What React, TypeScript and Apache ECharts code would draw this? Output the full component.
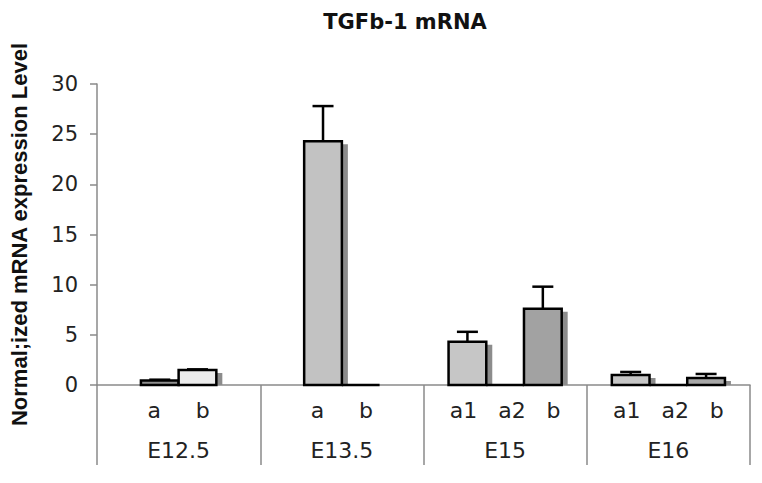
import React, { useEffect, useRef } from "react";
import * as echarts from "echarts";

const categories = ["E12.5", "E13.5", "E15", "E16"];
const subLabels = [["a", "b"], ["a", "b"], ["a1", "a2", "b"], ["a1", "a2", "b"]];
const values = [[0.45, 1.5], [24.3, 0], [4.3, 0, 7.6], [1.0, 0, 0.7]];
const errors = [[0.08, 0.06], [3.5, 0], [1.0, 0, 2.2], [0.3, 0, 0.4]];
const fills = [["#8f8f8f", "#ececec"], ["#c2c2c2", "#c2c2c2"], ["#c6c6c6", "#ffffff", "#a2a2a2"], ["#c6c6c6", "#ffffff", "#a8a8a8"]];
const yTicks = [0, 5, 10, 15, 20, 25, 30];

const NB = "\u00A0";

export default function App() {
  const ref = useRef<HTMLDivElement>(null);
  useEffect(() => {
    if (!ref.current) return;
    const chart = echarts.init(ref.current, null, { renderer: "svg" });
    const data: any[] = [];
    values.forEach((grp, ci) => {
      grp.forEach((v, si) => {
        data.push({ value: [ci, v, si, grp.length, errors[ci][si]], fill: fills[ci][si] });
      });
    });
    const labelText = (ci: number) => {
      const s = subLabels[ci];
      const gap = s.length === 2 ? NB.repeat(5) : NB.repeat(3);
      return "{s|" + s.join(gap) + "}\n{g|" + categories[ci] + "}";
    };
    chart.setOption({
      animation: false,
      backgroundColor: "#ffffff",
      title: {
        text: "TGFb-1 mRNA",
        left: 400,
        top: 6,
        textAlign: "center",
        textStyle: { fontFamily: "DejaVu Sans", fontWeight: "bold", fontSize: 21, color: "#111" },
      },
      grid: { left: 97, right: 12, top: 84, bottom: 98, outerBoundsMode: "none", containLabel: false },
      xAxis: {
        type: "category",
        data: categories,
        boundaryGap: true,
        axisLine: { show: true, lineStyle: { color: "#8a8a8a", width: 1.5 } },
        axisTick: { show: true, interval: 0, length: 80, lineStyle: { color: "#8a8a8a", width: 1.5 } },
        axisLabel: {
          interval: 0,
          margin: 5,
          formatter: (_v: string, i: number) => labelText(i),
          rich: {
            s: { fontFamily: "DejaVu Sans", fontSize: 22, lineHeight: 40, color: "#222" },
            g: { fontFamily: "DejaVu Sans", fontSize: 22, lineHeight: 40, color: "#222" },
          },
        },
      },
      yAxis: {
        type: "value",
        min: yTicks[0],
        max: yTicks[yTicks.length - 1],
        interval: 5,
        name: "Normal;ized mRNA expression Level",
        nameLocation: "middle",
        nameRotate: 90,
        nameGap: 67,
        nameTextStyle: { fontFamily: "Liberation Sans", fontWeight: "bold", fontSize: 22, color: "#111" },
        axisLine: { show: true, lineStyle: { color: "#8a8a8a", width: 1.5 } },
        axisTick: { show: true, length: 7, lineStyle: { color: "#8a8a8a", width: 1.5 } },
        splitLine: { show: false },
        axisLabel: { margin: 19, fontFamily: "DejaVu Sans", fontSize: 21, color: "#222" },
      },
      series: [
        {
          type: "custom",
          data,
          encode: { x: 0, y: 1 },
          renderItem: (params: any, api: any) => {
            const ci = api.value(0);
            const v = api.value(1);
            const si = api.value(2);
            const n = api.value(3);
            const err = api.value(4);
            const base = api.coord([ci, 0]);
            const top = api.coord([ci, v]);
            const errTop = api.coord([ci, v + err]);
            const band = api.size([1, 0])[0];
            const bw = band * 0.231;
            const x0 = base[0] - (n * bw) / 2 + si * bw;
            const h = base[1] - top[1];
            const fill = data[params.dataIndex].fill;
            const children: any[] = [];
            if (h > 4) {
              children.push({
                type: "rect",
                shape: { x: x0 + 6, y: top[1] + 3, width: bw, height: h - 3 },
                style: { fill: "#8c8c8c" },
              });
            }
            children.push({
              type: "rect",
              shape: { x: x0, y: top[1], width: bw, height: h },
              style: { fill, stroke: "#000", lineWidth: 2.5 },
            });
            if (err > 0) {
              const cx = x0 + bw / 2;
              children.push({
                type: "line",
                shape: { x1: cx, y1: top[1], x2: cx, y2: errTop[1] },
                style: { stroke: "#000", lineWidth: 2.5 },
              });
              children.push({
                type: "line",
                shape: { x1: cx - 10.5, y1: errTop[1], x2: cx + 10.5, y2: errTop[1] },
                style: { stroke: "#000", lineWidth: 2.5 },
              });
            }
            return { type: "group", children };
          },
        },
      ],
    });
    return () => chart.dispose();
  }, []);
  return (
    <div
      ref={ref}
      style={{ position: "fixed", left: 0, top: 0, width: 762, height: 483, background: "#fff" }}
    />
  );
}
